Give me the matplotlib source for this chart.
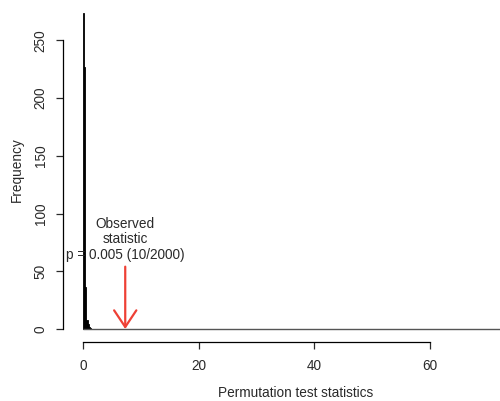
import numpy as np
import matplotlib
matplotlib.use("Agg")
import matplotlib.pyplot as plt
from matplotlib.patches import FancyArrowPatch

plt.rcParams['font.family'] = ['Liberation Sans', 'DejaVu Sans']

# permutation histogram: bin width and counts of the non-empty bins
bin_width = 0.2
counts_head = [274, 227, 36, 8, 4, 2, 1]
break_max = 75.0

observed_stat = 7.3
arrow_top = 54
p_label = "Observed\nstatistic\np = 0.005 (10/2000)"

x_ticks = [0, 20, 40, 60]
y_ticks = [0, 50, 100, 150, 200, 250]

edges = np.arange(0, break_max + bin_width, bin_width)
counts = np.zeros(len(edges) - 1)
counts[:len(counts_head)] = counts_head

txt_col = '#2a2a2a'
fs = 9.8

fig = plt.figure(figsize=(5.0, 4.01), dpi=100)
ax = fig.add_axes([0.126, 0.147, 0.874, 0.853])

# empty bins show up only as the baseline
ax.hlines(0, edges[0], edges[-1], color='#555555', linewidth=1.0)
ax.bar(edges[:-1], counts, width=bin_width, align='edge',
       color='black', edgecolor='black', linewidth=0.6)

ax.set_xlim(-3.46, 72.1)
ax.set_ylim(-11.3, 285)

# R-style detached axes
for s in ['top', 'right']:
    ax.spines[s].set_visible(False)
ax.spines['left'].set_bounds(0, 250)
ax.spines['bottom'].set_bounds(0, 60)
ax.spines['left'].set_linewidth(0.9)
ax.spines['bottom'].set_linewidth(0.9)
ax.set_xticks(x_ticks)
ax.set_yticks(y_ticks)
ax.tick_params(axis='both', length=5, width=0.9, labelsize=fs, colors=txt_col)
ax.tick_params(axis='x', pad=7.5)
ax.tick_params(axis='y', pad=6)
for lab in ax.get_yticklabels():
    lab.set_rotation(90)
    lab.set_va('center')

fig.text(296 / 500, 8 / 401, "Permutation test statistics", ha='center', va='center',
         fontsize=fs, color=txt_col)
fig.text(17 / 500, 1 - 170 / 401, "Frequency", ha='center', va='center',
         rotation=90, fontsize=fs, color=txt_col)

arrow = FancyArrowPatch((observed_stat, arrow_top), (observed_stat, 0),
                        arrowstyle="->,head_length=1.2,head_width=0.8",
                        mutation_scale=10, color='#ee4035', linewidth=1.6,
                        shrinkA=0, shrinkB=0)
ax.add_patch(arrow)
ax.text(observed_stat, arrow_top + 4, p_label, ha='center', va='bottom',
        fontsize=fs, color=txt_col, linespacing=1.15)

fig.savefig("out.png", dpi=100)
